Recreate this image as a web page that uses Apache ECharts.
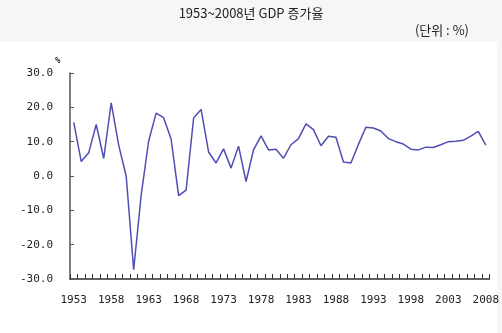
<!DOCTYPE html>
<html>
<head>
<meta charset="utf-8">
<script src="https://cdn.jsdelivr.net/npm/echarts@6/dist/echarts.min.js"></script>
<style>
  html, body { margin: 0; padding: 0; background: #f6f6f6; }
  #chart { width: 502px; height: 333px; }
</style>
</head>
<body>
<div id="chart"></div>
<script>
// Annual GDP growth rate (%), 1953–2008
const years = [];
for (let y = 1953; y <= 2008; y++) years.push(String(y));

const growth = [
  15.6, 4.2, 6.8, 15.0, 5.1, 21.3, 9.0, 0.0, -27.3, -5.6,
  10.2, 18.3, 17.0, 10.7, -5.7, -4.1, 16.9, 19.4, 7.0, 3.8,
  7.9, 2.3, 8.7, -1.6, 7.6, 11.7, 7.6, 7.8, 5.2, 9.1,
  10.9, 15.2, 13.5, 8.8, 11.6, 11.3, 4.1, 3.8, 9.2, 14.2,
  14.0, 13.1, 10.9, 10.0, 9.3, 7.8, 7.6, 8.4, 8.3, 9.1,
  10.0, 10.1, 10.4, 11.6, 13.0, 9.0
];

const yTicks = { min: -30, max: 30, step: 10 };

const chart = echarts.init(document.getElementById('chart'));
const mono = '"DejaVu Sans Mono", "Liberation Mono", monospace';
const kr = '"Noto Sans CJK KR", "Noto Sans", sans-serif';

chart.setOption({
  backgroundColor: '#f6f6f6',
  animation: false,
  graphic: [
    { type: 'rect', z: -10, shape: { x: 0, y: 42, width: 497, height: 291 },
      style: { fill: '#ffffff' }, silent: true },
    { type: 'text', left: 'center', top: 7, z: 10,
      style: { text: '1953~2008년 GDP 증가율', font: '13px ' + kr, fill: '#222' } },
    { type: 'text', right: 33, top: 24, z: 10,
      style: { text: '(단위 : %)', font: '13px ' + kr, fill: '#222' } },
    { type: 'text', left: 55, top: 56, z: 10,
      style: { text: '%', font: 'bold 9px ' + mono, fill: '#222' } }
  ],
  grid: { left: 70, right: 11, top: 73, bottom: 54, containLabel: false },
  xAxis: {
    type: 'category',
    data: years,
    boundaryGap: true,
    axisLine: { onZero: false, lineStyle: { color: '#333', width: 1.5 } },
    axisTick: { show: true, inside: true, length: 5, interval: 0,
                lineStyle: { color: '#333', width: 1 } },
    axisLabel: {
      interval: 4, margin: 16, color: '#222', fontFamily: mono, fontSize: 11
    },
    splitLine: { show: false }
  },
  yAxis: {
    type: 'value',
    min: yTicks.min, max: yTicks.max, interval: yTicks.step,
    axisLine: { show: true, lineStyle: { color: '#555', width: 1.5 } },
    axisTick: { show: true, inside: true, length: 4, lineStyle: { color: '#555' } },
    axisLabel: {
      margin: 17, color: '#222', fontFamily: mono, fontSize: 11,
      formatter: v => v.toFixed(1)
    },
    splitLine: { show: false }
  },
  series: [{
    type: 'line',
    data: growth,
    symbol: 'none',
    lineStyle: { color: '#4e4eb4', width: 1.5 }
  }]
});
</script>
</body>
</html>
